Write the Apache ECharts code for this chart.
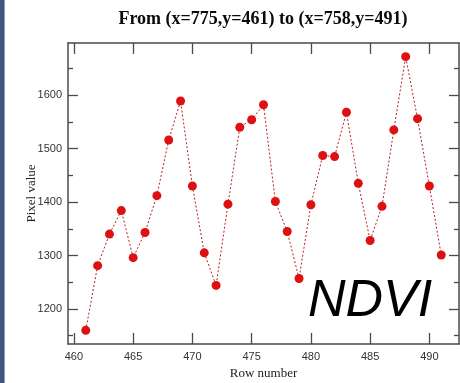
<!DOCTYPE html>
<html>
<head>
<meta charset="utf-8">
<script src="https://cdn.jsdelivr.net/npm/echarts@6/dist/echarts.min.js"></script>
<style>
  html, body { margin: 0; padding: 0; background: #fff; }
  #chart { width: 460px; height: 383px; }
</style>
</head>
<body>
<div id="chart"></div>
<script>
// Profile of pixel values along a row transect
const rows = [461, 462, 463, 464, 465, 466, 467, 468, 469, 470, 471, 472, 473, 474, 475, 476,
              477, 478, 479, 480, 481, 482, 483, 484, 485, 486, 487, 488, 489, 490, 491];
const pixelValues = [1160, 1281, 1340, 1384, 1296, 1343, 1412, 1516, 1589, 1430, 1305, 1244, 1396, 1540, 1554, 1582,
                     1401, 1345, 1257, 1395, 1487, 1485, 1568, 1435, 1328, 1392, 1535, 1672, 1556, 1430, 1301];
const xTicks = [460, 465, 470, 475, 480, 485, 490];
const yTicks = [1200, 1300, 1400, 1500, 1600];
const yMinorTicks = [1150, 1250, 1350, 1450, 1550, 1650];
const titleText = 'From (x=775,y=461) to (x=758,y=491)';
const xName = 'Row number';
const yName = 'Pixel value';
const stamp = 'NDVI';

// Axis ranges padded by 5% of the data span on each side
const xSpan = Math.max(...rows) - Math.min(...rows);
const xMin = Math.min(...rows) - 0.05 * xSpan;
const xMax = Math.max(...rows) + 0.05 * xSpan;
const ySpan = Math.max(...pixelValues) - Math.min(...pixelValues);
const yMin = Math.min(...pixelValues) - 0.05 * ySpan;
const yMax = Math.max(...pixelValues) + 0.05 * ySpan;

const frame = { show: true, onZero: false, lineStyle: { color: '#4a4a4a', width: 1.5 } };
const tickStyle = { color: '#4a4a4a', width: 1.3 };
const labelFont = { fontFamily: 'Liberation Sans', fontSize: 11, color: '#333', formatter: v => String(v) };

function xAxisDef(pos, withLabels) {
  return {
    type: 'value', position: pos, min: xMin, max: xMax,
    axisLine: frame,
    splitLine: { show: false },
    axisTick: { show: true, inside: true, length: 11, lineStyle: tickStyle, customValues: xTicks },
    axisLabel: withLabels
      ? Object.assign({ show: true, margin: 7, customValues: xTicks }, labelFont)
      : { show: false },
    name: withLabels ? xName : '',
    nameLocation: 'middle', nameGap: 23, nameMoveOverlap: false,
    nameTextStyle: { fontFamily: 'Liberation Serif', fontSize: 13, color: '#222' }
  };
}
function yAxisDef(pos, ticks, len, withLabels, showLine) {
  return {
    type: 'value', position: pos, min: yMin, max: yMax,
    axisLine: showLine ? frame : { show: false },
    splitLine: { show: false },
    axisTick: { show: true, inside: true, length: len, lineStyle: tickStyle, customValues: ticks },
    axisLabel: withLabels
      ? Object.assign({ show: true, margin: 6, customValues: ticks }, labelFont)
      : { show: false },
    name: withLabels ? yName : '',
    nameLocation: 'middle', nameGap: 30, nameMoveOverlap: false,
    nameTextStyle: { fontFamily: 'Liberation Serif', fontSize: 13, color: '#222' }
  };
}

const chart = echarts.init(document.getElementById('chart'), null, { renderer: 'canvas' });
chart.setOption({
  animation: false,
  backgroundColor: '#fff',
  title: {
    text: titleText, left: 258, top: 5, textAlign: 'center',
    textStyle: { fontFamily: 'Liberation Serif', fontWeight: 'bold', fontSize: 18, color: '#0a0a0a' }
  },
  grid: { left: 68, right: 1, top: 43, bottom: 39, outerBoundsMode: 'none', containLabel: false },
  xAxis: [xAxisDef('bottom', true), xAxisDef('top', false)],
  yAxis: [
    yAxisDef('left', yTicks, 10, true, true),
    yAxisDef('left', yMinorTicks, 5, false, false),
    yAxisDef('right', yTicks, 10, false, true),
    yAxisDef('right', yMinorTicks, 5, false, false)
  ],
  series: [{
    type: 'line',
    xAxisIndex: 0, yAxisIndex: 0,
    data: rows.map((r, i) => [r, pixelValues[i]]),
    symbol: 'circle', symbolSize: 9,
    itemStyle: { color: '#dd1111' },
    lineStyle: { color: '#b82020', width: 1, type: [2, 2] }
  }],
  graphic: [
    { type: 'rect', left: 0, top: 0, shape: { width: 5, height: 383 }, style: { fill: '#42557f' } },
    { type: 'rect', left: 4, top: 0, shape: { width: 1, height: 383 }, style: { fill: '#8a9abb' } },
    {
      type: 'text', x: 308, y: 302,
      style: {
        text: stamp, fill: '#000', fontFamily: 'Liberation Sans', fontStyle: 'italic',
        fontSize: 52, verticalAlign: 'middle', align: 'left'
      }
    }
  ]
});
</script>
</body>
</html>
